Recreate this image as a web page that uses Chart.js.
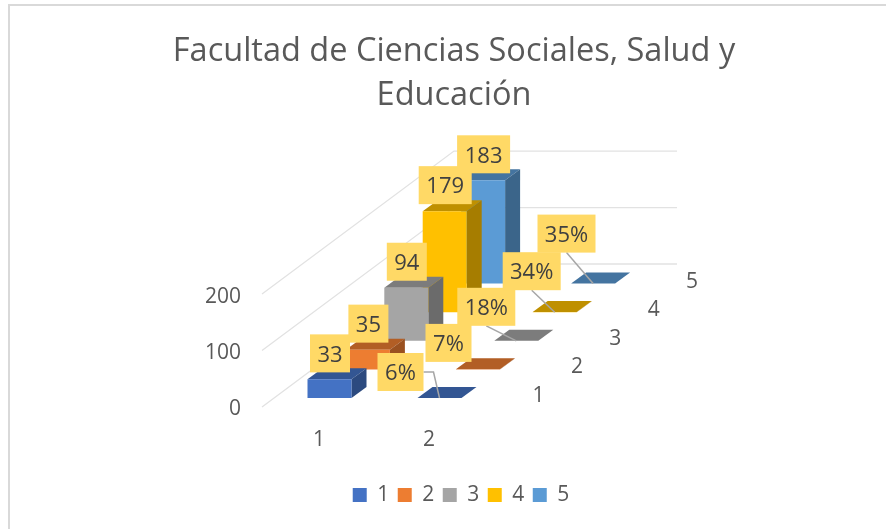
<!DOCTYPE html>
<html><head><meta charset="utf-8">
<style>html,body{margin:0;padding:0;background:#fff}canvas{display:block}</style>
<script src="https://cdn.jsdelivr.net/npm/chart.js@4"></script>
</head><body><canvas id="c" width="886" height="529"></canvas>
<script>
const titleLines = ['Facultad de Ciencias Sociales, Salud y','Educación'];
const categories = ['1','2'];
const seriesNames = ['1','2','3','4','5'];
const s1 = [33,0.06];
const s2 = [35,0.07];
const s3 = [94,0.18];
const s4 = [179,0.34];
const s5 = [183,0.35];
const yTicks = [0,100,200];
const colors = ['#4472C4','#ED7D31','#A5A5A5','#FFC000','#5B9BD5'];

const FONT = '"Open Sans", sans-serif';
const TEXT = '#595959';
const DX = 38.4, DY = 28.6, OX = 10.5, OY = -9, BX = 15, BY = 11;
const labelOff = [[-39,-26],[-29.4,-26.5],[-30,-34],[-23,-41],[-26.6,-50]];

function shade(hex,f){const n=parseInt(hex.slice(1),16);
  return `rgb(${Math.round((n>>16&255)*f)},${Math.round((n>>8&255)*f)},${Math.round((n&255)*f)})`;}
const fmt = v => v < 1 ? Math.round(v*100)+'%' : String(v);

const solid = {
  id:'solid',
  afterLayout(chart){chart.legend.left+=14;},
  beforeDraw(chart){
    const ctx=chart.ctx;ctx.save();ctx.strokeStyle='#d9d9d9';ctx.lineWidth=2;
    ctx.beginPath();ctx.moveTo(9,529);ctx.lineTo(9,5);ctx.lineTo(886,5);ctx.stroke();ctx.restore();
  },
  beforeDatasetsDraw(chart){
    const {ctx,chartArea:a,scales:{y}} = chart;
    ctx.save();ctx.strokeStyle='#e2e2e2';ctx.lineWidth=1.3;
    yTicks.forEach(t=>{
      const p=y.getPixelForValue(t);
      ctx.beginPath();ctx.moveTo(a.left-2,p);
      ctx.lineTo(a.left-2+DX*5,p-DY*5);ctx.lineTo(677,p-DY*5);ctx.stroke();
    });
    ctx.restore();
  },
  beforeDatasetDraw(chart,args){
    const ctx=chart.ctx,i=args.index;
    ctx.save();ctx.translate(OX+DX*i,OY-DY*i);
    const meta=args.meta,c=colors[i];
    meta.data.forEach(el=>{
      const l=el.x-el.width/2,r=el.x+el.width/2,t=el.y,b=el.base;
      ctx.fillStyle=shade(c,0.75);
      ctx.beginPath();ctx.moveTo(l,t);ctx.lineTo(l+BX,t-BY);ctx.lineTo(r+BX,t-BY);ctx.lineTo(r,t);ctx.closePath();ctx.fill();
      ctx.fillStyle=shade(c,0.65);
      ctx.beginPath();ctx.moveTo(r,t);ctx.lineTo(r+BX,t-BY);ctx.lineTo(r+BX,b-BY);ctx.lineTo(r,b);ctx.closePath();ctx.fill();
    });
  },
  afterDatasetDraw(chart){chart.ctx.restore();},
  afterDatasetsDraw(chart){
    const {ctx,chartArea:a}=chart;
    ctx.save();
    ctx.font='21px '+FONT;ctx.fillStyle=TEXT;ctx.textAlign='center';ctx.textBaseline='middle';
    seriesNames.forEach((n,i)=>ctx.fillText(n,a.right+54.5+DX*i,396-DY*i));
    const boxes=[];
    chart.data.datasets.forEach((ds,i)=>{
      const meta=chart.getDatasetMeta(i),tx=OX+DX*i,ty=OY-DY*i;
      ds.data.forEach((v,j)=>{
        const el=meta.data[j],cx=el.x+tx,top=el.y+ty,base=el.base+ty;
        let bx,by;
        if(j===0){bx=cx+0.5;by=top-26;}
        else{bx=cx+labelOff[i][0];by=base+labelOff[i][1];}
        const txt=fmt(v);
        ctx.font='22px '+FONT;
        const w=Math.round(ctx.measureText(txt).width)+15,h=38;
        boxes.push({txt,bx,by,w,h});
        if(j===1&&i!==1){
          ctx.strokeStyle='#a6a6a6';ctx.lineWidth=1.5;ctx.beginPath();
          if(i===0){ctx.moveTo(bx+w/2,by);ctx.lineTo(bx+w/2+10,by);ctx.lineTo(cx,base);}
          else{ctx.moveTo(bx,by+h/2);ctx.lineTo(cx,base);}
          ctx.stroke();
        }
      });
    });
    boxes.forEach(b=>{
      ctx.fillStyle='#FFD966';ctx.fillRect(b.bx-b.w/2,b.by-b.h/2,b.w,b.h);
    });
    boxes.forEach(b=>{
      ctx.fillStyle='#404040';ctx.font='22px '+FONT;ctx.fillText(b.txt,b.bx,b.by+2);
    });
    ctx.restore();
  }
};

new Chart(document.getElementById('c'),{
  type:'bar',
  data:{labels:categories,datasets:[s1,s2,s3,s4,s5].map((d,i)=>({
    label:seriesNames[i],data:d,backgroundColor:colors[i],
    barPercentage:0.4,categoryPercentage:1,grouped:false,clip:false
  }))},
  options:{
    responsive:false,animation:false,
    layout:{padding:{left:22,bottom:13.5}},
    plugins:{
      tooltip:{enabled:false},
      title:{display:true,text:titleLines,color:TEXT,font:{family:FONT,size:32.5,weight:'normal',lineHeight:1.34},padding:{top:30,bottom:177}},
      legend:{position:'bottom',labels:{boxWidth:14,boxHeight:14,padding:8.5,color:TEXT,font:{family:FONT,size:21}}}
    },
    scales:{
      x:{grid:{display:false},border:{display:false},ticks:{color:TEXT,padding:12,font:{family:FONT,size:21}},afterFit(s){s.height=69;}},
      y:{min:0,max:200,afterBuildTicks(s){s.ticks=yTicks.map(v=>({value:v}));},grid:{display:false},border:{display:false},
         ticks:{color:TEXT,padding:15,labelOffset:2.5,font:{family:FONT,size:21}},afterFit(s){s.width=242;}},
      y2:{position:'right',display:true,grid:{display:false},border:{display:false},ticks:{display:false},afterFit(s){s.width=402;}}
    }
  },
  plugins:[solid]
});
</script></body></html>
